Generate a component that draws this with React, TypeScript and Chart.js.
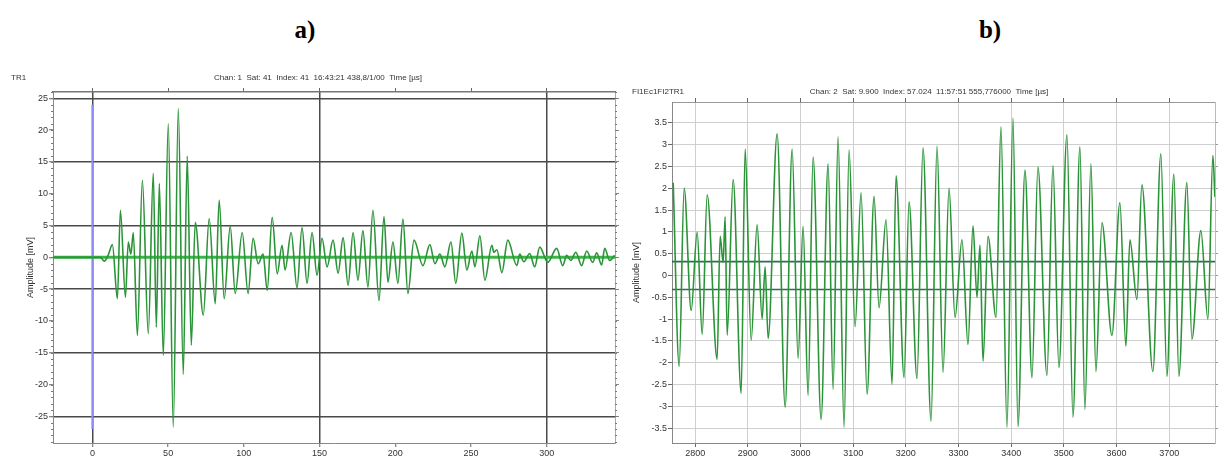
import React, { useEffect, useRef } from "react";
import { Chart, registerables } from "chart.js";
Chart.register(...registerables);

// ---------- Panel a) ----------
const leftTimeUs = [
  -26, 0, 5.3, 7.9, 10.5, 13.2, 16.5, 18.5, 21.8, 23.7,
  25.4, 27.0, 29.7, 33.0, 36.9, 40.2, 42.2, 44.2, 46.8, 50.1,
  53.4, 56.7, 60.0, 62.6, 65.3, 67.9, 73.2, 77.1, 81.1, 83.7,
  87.0, 91.0, 94.3, 98.9, 102.8, 106.1, 109.4, 112.7, 115.4, 118.7,
  122.0, 125.2, 127.2, 131.2, 135.1, 138.4, 141.7, 145.0, 148.3, 151.6,
  154.9, 158.9, 162.2, 165.5, 168.8, 172.1, 175.3, 178.6, 181.9, 185.2,
  189.2, 192.5, 195.1, 198.4, 201.7, 205.0, 208.3, 212.3, 218.2, 222.8,
  226.1, 229.4, 232.7, 236.7, 239.9, 243.9, 247.2, 250.5, 252.5, 255.8,
  259.1, 263.7, 265.0, 267.0, 270.3, 274.2, 280.2, 282.1, 284.8, 288.7,
  292.0, 295.3, 300.6, 306.5, 310.5, 313.1, 315.8, 319.1, 323.0, 326.3,
  330.3, 332.9, 336.2, 338.2, 341.5, 344.8,
];
const leftAmplitude = [
  0, 0, 0, -0.6, 0.4, 2, -6.5, 7.4, -6.3, 2.4,
  0.5, 3.9, -12.3, 12.1, -12, 13.2, -11, 11.6, -15.4, 21,
  -26.7, 23.4, -18.4, 15.9, -13.8, 5.5, -9.1, 6.1, -7.3, 9,
  -6.5, 4.9, -5.7, 3.9, -5.7, 3, -1.0, 0.5, -5.2, 6.3,
  -2.6, 1.9, -2, 3.9, -4.8, 4.7, -4.1, 3.9, -2.8, 3,
  -1.5, 2.7, -2.5, 3.1, -4.4, 3.9, -3.6, 4.2, -4.7, 7.4,
  -6.8, 6.4, -3.9, 2.4, -4.1, 6, -5.7, 2.7, -1.3, 2,
  -1, 0.5, -1.5, 2.4, -4.1, 3.8, -2, 1, -1.5, 3.4,
  -3.6, 1.9, 0.8, 1.2, -2.4, 2.7, -1.3, 0.5, -0.7, 0.6,
  -1.5, 1.6, -0.8, 1.4, -1.3, 0.3, -0.5, 0.8, -1.3, 1,
  -0.8, 0.7, -1.2, 1.4, -0.5, 0.3,
];
const leftXRange = [-26, 345];
const leftYRange = [-29.2, 26];
const leftXTicks = [0, 50, 100, 150, 200, 250, 300];
const leftYTicks = [-25, -20, -15, -10, -5, 0, 5, 10, 15, 20, 25];
const leftYMinorStep = 1;
const leftMajorX = [0, 150, 300];
const leftMajorY = [-25, -15, -5, 5, 15, 25];
const leftCursorX = [0, 0];
const leftCursorY = [24, -27];
const leftBaseline = 0;

// ---------- Panel b) ----------
const rightTimeUs = [
  2758.3, 2769.6, 2779.1, 2792.4, 2803.8, 2813.3, 2822.8, 2841.7, 2847.4, 2853.1,
  2856.9, 2860.7, 2872.1, 2887.3, 2894.9, 2906.3, 2917.6, 2927.1, 2932.8, 2938.5,
  2955.6, 2970.8, 2984.1, 2995.4, 3004.9, 3014.4, 3023.9, 3039.1, 3052.4, 3061.9,
  3071.3, 3082.7, 3092.2, 3103.6, 3115.0, 3126.4, 3139.7, 3149.1, 3162.4, 3173.8,
  3181.4, 3196.6, 3206.1, 3221.2, 3232.6, 3247.8, 3259.2, 3270.6, 3282.0, 3293.4,
  3306.6, 3318.0, 3327.5, 3335.1, 3340.8, 3346.5, 3356.0, 3371.2, 3380.6, 3392.0,
  3403.4, 3412.9, 3426.2, 3439.5, 3450.8, 3467.9, 3479.3, 3490.7, 3505.9, 3517.3,
  3530.5, 3540.0, 3551.4, 3560.9, 3572.3, 3591.3, 3606.4, 3617.8, 3625.4, 3638.7,
  3648.2, 3669.0, 3684.2, 3695.6, 3708.9, 3718.4, 3733.6, 3743.1, 3760.2, 3773.5,
  3783.0, 3786.8,
];
const rightAmplitude = [
  2.13, -2.08, 2.0, -0.8, 1.0, -1.35, 1.85, -1.92, 0.9, 0.3,
  1.35, -1.37, 2.2, -2.7, 2.9, -1.49, 1.17, -1.0, 0.2, -1.44,
  3.25, -3.02, 2.9, -1.9, 1.13, -2.75, 2.72, -3.3, 2.56, -2.61,
  3.18, -3.48, 2.88, -1.17, 1.9, -2.72, 1.82, -0.74, 1.28, -2.49,
  2.29, -2.34, 1.69, -2.36, 2.93, -3.34, 2.97, -2.22, 2.0, -0.96,
  0.82, -1.58, 1.14, -0.5, 0.7, -1.97, 0.9, -0.96, 3.41, -3.48,
  3.61, -3.46, 2.42, -2.34, 2.49, -2.29, 2.52, -2.11, 3.23, -3.25,
  2.95, -3.07, 2.56, -2.2, 1.21, -1.37, 1.67, -1.62, 0.82, -0.55,
  2.08, -2.2, 2.79, -2.31, 2.33, -2.31, 2.13, -1.46, 1.03, -1.0,
  2.75, 1.8,
];
const rightXRange = [2756, 3787];
const rightYRange = [-3.84, 3.98];
const rightXTicks = [2800, 2900, 3000, 3100, 3200, 3300, 3400, 3500, 3600, 3700];
const rightYTicks = [-3.5, -3, -2.5, -2, -1.5, -1, -0.5, 0, 0.5, 1, 1.5, 2, 2.5, 3, 3.5];
const rightThresholds = [0.32, -0.32];

const FONT = '"Liberation Sans", Arial, sans-serif';
const SIGNAL = "#2b9438";

function headerPlugin(cfg: any) {
  return {
    id: "hdr",
    afterDraw(chart: any) {
      const ctx = chart.ctx;
      const a = chart.chartArea;
      ctx.save();
      // minor ticks on the left value axis
      if (cfg.minorStep) {
        const ys = chart.scales.y;
        ctx.strokeStyle = "#777";
        ctx.lineWidth = 1;
        ctx.beginPath();
        const start = Math.ceil(ys.min / cfg.minorStep) * cfg.minorStep;
        for (let v = start; v <= ys.max; v += cfg.minorStep) {
          const py = Math.round(ys.getPixelForValue(v)) + 0.5;
          ctx.moveTo(a.left - 2, py);
          ctx.lineTo(a.left, py);
          ctx.moveTo(a.right, py);
          ctx.lineTo(a.right + 2, py);
        }
        ctx.stroke();
      }
      ctx.fillStyle = "#333";
      ctx.font = `8px ${FONT}`;
      ctx.textBaseline = "middle";
      ctx.textAlign = "left";
      ctx.fillText(cfg.left, cfg.leftX, cfg.y);
      ctx.textAlign = "center";
      ctx.fillText(cfg.center, cfg.centerX, cfg.y);
      ctx.font = `9px ${FONT}`;
      ctx.translate(cfg.titleX, (a.top + a.bottom) / 2);
      ctx.rotate(-Math.PI / 2);
      ctx.fillText("Amplitude [mV]", 0, 0);
      ctx.restore();
    },
  };
}

function setTicks(vals: number[]) {
  return (s: any) => {
    s.ticks = vals.map((v) => ({ value: v }));
  };
}

function buildLeft(canvas: HTMLCanvasElement) {
  const range = (r: number[]) => ({ min: r[0], max: r[1] });
  return new Chart(canvas, {
    type: "line",
    data: {
      datasets: [
        {
          data: leftTimeUs.map((x, i) => ({ x, y: leftAmplitude[i] })),
          borderColor: SIGNAL,
          borderWidth: 1.6,
          pointRadius: 0,
          cubicInterpolationMode: "monotone",
          order: 0,
        },
        {
          data: leftXRange.map((x) => ({ x, y: leftBaseline })),
          borderColor: "#3cb449",
          borderWidth: 3,
          pointRadius: 0,
          order: 1,
        },
        {
          data: leftCursorX.map((x, i) => ({ x, y: leftCursorY[i] })),
          borderColor: "#8c8cf5",
          borderWidth: 2,
          pointRadius: 0,
          order: 2,
        },
      ],
    },
    options: {
      responsive: false,
      animation: false,
      layout: { padding: 0 },
      plugins: { legend: { display: false }, tooltip: { enabled: false } },
      scales: {
        x: {
          type: "linear",
          position: "bottom",
          ...range(leftXRange),
          afterBuildTicks: setTicks(leftXTicks),
          afterFit: (s: any) => { s.height = 14; },
          grid: {
            color: (c: any) => (leftMajorX.includes(c.tick?.value) ? "#4a4a4a" : "rgba(0,0,0,0)"),
            lineWidth: 1.5,
            tickLength: 4,
            tickColor: "#666",
            tickWidth: 1,
          },
          border: { color: "#888", width: 1 },
          ticks: { font: { size: 9, family: FONT }, color: "#333", padding: 1, maxRotation: 0, autoSkip: false, callback: (v: any) => String(v) },
        },
        x2: {
          type: "linear",
          position: "top",
          ...range(leftXRange),
          afterBuildTicks: setTicks(leftXTicks),
          afterFit: (s: any) => { s.height = 32; },
          grid: { drawOnChartArea: false, tickLength: 4, tickColor: "#666" },
          border: { color: "#777", width: 1.5 },
          ticks: { display: false },
        },
        y: {
          type: "linear",
          position: "left",
          ...range(leftYRange),
          afterBuildTicks: setTicks(leftYTicks),
          afterFit: (s: any) => { s.width = 53; },
          grid: {
            color: (c: any) => (leftMajorY.includes(c.tick?.value) ? "#4a4a4a" : "rgba(0,0,0,0)"),
            lineWidth: 1.5,
            tickLength: 4,
            tickColor: "#666",
            tickWidth: 1,
          },
          border: { color: "#888", width: 1 },
          ticks: { font: { size: 9, family: FONT }, color: "#333", padding: 1, autoSkip: false, callback: (v: any) => String(v) },
        },
        y2: {
          type: "linear",
          position: "right",
          ...range(leftYRange),
          afterBuildTicks: setTicks(leftYTicks),
          afterFit: (s: any) => { s.width = 10; },
          grid: { drawOnChartArea: false, tickLength: 4, tickColor: "#888" },
          border: { color: "#aaa", width: 1 },
          ticks: { display: false },
        },
      },
    } as any,
    plugins: [
      headerPlugin({
        left: "TR1",
        leftX: 11,
        center: "Chan: 1  Sat: 41  Index: 41  16:43:21 438,8/1/00  Time [µs]",
        centerX: 318,
        y: 18,
        titleX: 31,
        minorStep: leftYMinorStep,
      }),
    ],
  });
}

function buildRight(canvas: HTMLCanvasElement) {
  const range = (r: number[]) => ({ min: r[0], max: r[1] });
  return new Chart(canvas, {
    type: "line",
    data: {
      datasets: [
        {
          data: rightTimeUs.map((x, i) => ({ x, y: rightAmplitude[i] })),
          borderColor: SIGNAL,
          borderWidth: 1.6,
          pointRadius: 0,
          cubicInterpolationMode: "monotone",
          order: 0,
        },
        ...rightThresholds.map((t) => ({
          data: rightXRange.map((x) => ({ x, y: t })),
          borderColor: "#2c6e50",
          borderWidth: 1.6,
          pointRadius: 0,
          order: 1,
        })),
      ],
    },
    options: {
      responsive: false,
      animation: false,
      layout: { padding: 0 },
      plugins: { legend: { display: false }, tooltip: { enabled: false } },
      scales: {
        x: {
          type: "linear",
          position: "bottom",
          ...range(rightXRange),
          afterBuildTicks: setTicks(rightXTicks),
          afterFit: (s: any) => { s.height = 14; },
          grid: { color: "#cfcfcf", lineWidth: 1, tickLength: 4, tickColor: "#666" },
          border: { color: "#888", width: 1 },
          ticks: { font: { size: 9, family: FONT }, color: "#333", padding: 1, maxRotation: 0, autoSkip: false, callback: (v: any) => String(v) },
        },
        x2: {
          type: "linear",
          position: "top",
          ...range(rightXRange),
          afterBuildTicks: setTicks(rightXTicks),
          afterFit: (s: any) => { s.height = 42; },
          grid: { drawOnChartArea: false, tickLength: 4, tickColor: "#666" },
          border: { color: "#999", width: 1 },
          ticks: { display: false },
        },
        y: {
          type: "linear",
          position: "left",
          ...range(rightYRange),
          afterBuildTicks: setTicks(rightYTicks),
          afterFit: (s: any) => { s.width = 52; },
          grid: { color: "#cfcfcf", lineWidth: 1, tickLength: 4, tickColor: "#666" },
          border: { color: "#888", width: 1 },
          ticks: { font: { size: 9, family: FONT }, color: "#333", padding: 1, autoSkip: false, callback: (v: any) => String(v) },
        },
        y2: {
          type: "linear",
          position: "right",
          ...range(rightYRange),
          afterBuildTicks: setTicks(rightYTicks),
          afterFit: (s: any) => { s.width = 6; },
          grid: { drawOnChartArea: false, tickLength: 3, tickColor: "#999" },
          border: { color: "#bbb", width: 1 },
          ticks: { display: false },
        },
      },
    } as any,
    plugins: [
      headerPlugin({
        left: "FI1Ec1FI2TR1",
        leftX: 12,
        center: "Chan: 2  Sat: 9.900  Index: 57.024  11:57:51 555,776000  Time [µs]",
        centerX: 309,
        y: 32,
        titleX: 17,
      }),
    ],
  });
}

export default function App() {
  const leftRef = useRef<HTMLCanvasElement>(null);
  const rightRef = useRef<HTMLCanvasElement>(null);

  useEffect(() => {
    const a = buildLeft(leftRef.current!);
    const b = buildRight(rightRef.current!);
    return () => {
      a.destroy();
      b.destroy();
    };
  }, []);

  const titleStyle: React.CSSProperties = {
    position: "absolute",
    top: 14,
    width: 60,
    textAlign: "center",
    fontFamily: '"Liberation Serif", "Times New Roman", serif',
    fontWeight: "bold",
    fontSize: 25,
    lineHeight: "32px",
    color: "#000",
  };

  return (
    <div style={{ position: "absolute", left: 0, top: 0, width: 1221, height: 457, background: "#fff", overflow: "hidden" }}>
      <div style={{ ...titleStyle, left: 275 }}>a)</div>
      <div style={{ ...titleStyle, left: 960 }}>b)</div>
      <canvas ref={leftRef} width={625} height={397} style={{ position: "absolute", left: 0, top: 60, width: 625, height: 397 }} />
      <canvas ref={rightRef} width={601} height={397} style={{ position: "absolute", left: 620, top: 60, width: 601, height: 397 }} />
    </div>
  );
}
